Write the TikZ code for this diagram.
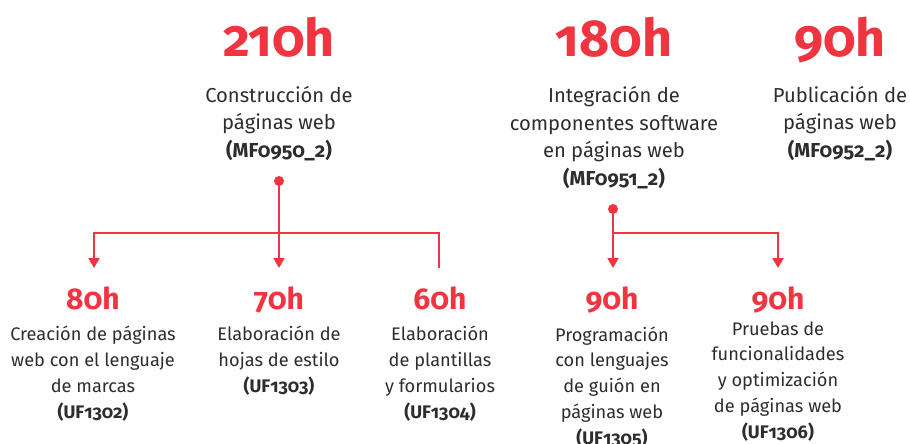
\documentclass[tikz,border=0pt]{standalone}
\usepackage{fontspec}
\setmainfont{Fira Sans}[Numbers=OldStyle]
\usetikzlibrary{positioning, arrows.meta}
\definecolor{hourred}{RGB}{240,52,64}
\definecolor{textgray}{RGB}{45,45,45}
\tikzset{
  bighours/.style={text=hourred, font=\bfseries\fontsize{52}{52}\selectfont, inner sep=0pt, anchor=base}, % module hours
  smallhours/.style={text=hourred, font=\bfseries\fontsize{30}{30}\selectfont, inner sep=0pt, anchor=base}, % unit hours
  modtext/.style={text=textgray, align=center, font=\fontsize{20.2}{27.5}\selectfont, inner sep=0pt, anchor=base}, % placed at last baseline
  unittext/.style={text=textgray, align=center, font=\fontsize{18.2}{25.7}\selectfont, inner sep=0pt, anchor=base},
  dot/.style={circle, fill=hourred, inner sep=0pt, minimum size=10pt},
  flow/.style={draw=hourred, line width=2pt, -{Triangle[width=11pt, length=10pt]}},
}

\begin{document}
\begin{tikzpicture}[x=1pt, y=-1pt]
  \useasboundingbox (0,0) rectangle (910,444);
  % modules
  \node[bighours] (h210) at (279,57) {210h};
  \node[modtext] (mf0950) at (279,157) {Construcción de\\páginas web\\\textbf{(MF0950\_2)}};
  \node[bighours] (h180) at (614,57) {180h};
  \node[modtext] (mf0951) at (614,185) {Integración de\\componentes software\\en páginas web\\\textbf{(MF0951\_2)}};
  \node[bighours] (h90) at (840,57) {90h};
  \node[modtext] (mf0952) at (840,157) {Publicación de\\páginas web\\\textbf{(MF0952\_2)}};
  % units
  \node[smallhours] (h80) at (93,309) {80h};
  \node[unittext] (uf1302) at (93,418) {Creación de páginas\\web con el lenguaje\\de marcas\\\textbf{(UF1302)}};
  \node[smallhours] (h70) at (279,309) {70h};
  \node[unittext] (uf1303) at (279,392) {Elaboración de\\hojas de estilo\\\textbf{(UF1303)}};
  \node[smallhours] (h60) at (440,309) {60h};
  \node[unittext] (uf1304) at (440,418) {Elaboración\\de plantillas\\y formularios\\\textbf{(UF1304)}};
  \node[smallhours] (h90a) at (612,309) {90h};
  \node[unittext] (uf1305) at (612,444) {Programación\\con lenguajes\\de guión en\\páginas web\\\textbf{(UF1305)}};
  \node[smallhours] (h90b) at (778,309) {90h};
  \node[unittext] (uf1306) at (778,438) {Pruebas de\\funcionalidades\\y optimización\\de páginas web\\\textbf{(UF1306)}};
  % connectors
  \node[dot] (dot0950) at (279,181) {};
  \node[dot] (dot0951) at (613,209) {};
  \coordinate (fork0950) at (279,233);
  \coordinate (fork0951) at (613,233);
  \coordinate (tip1302) at (94,268);
  \coordinate (tip1303) at (279,268);
  \coordinate (tip1304) at (439,268);
  \coordinate (tip1305) at (613,268);
  \coordinate (tip1306) at (778,268);
  \draw[flow] (dot0950.center) -- (tip1303);
  \draw[flow, {Triangle[width=11pt, length=10pt]}-] (tip1302) |- (fork0950) -| (tip1304);
  \draw[flow] (dot0951.center) -- (tip1305);
  \draw[flow] (fork0951) -| (tip1306);
\end{tikzpicture}
\end{document}
